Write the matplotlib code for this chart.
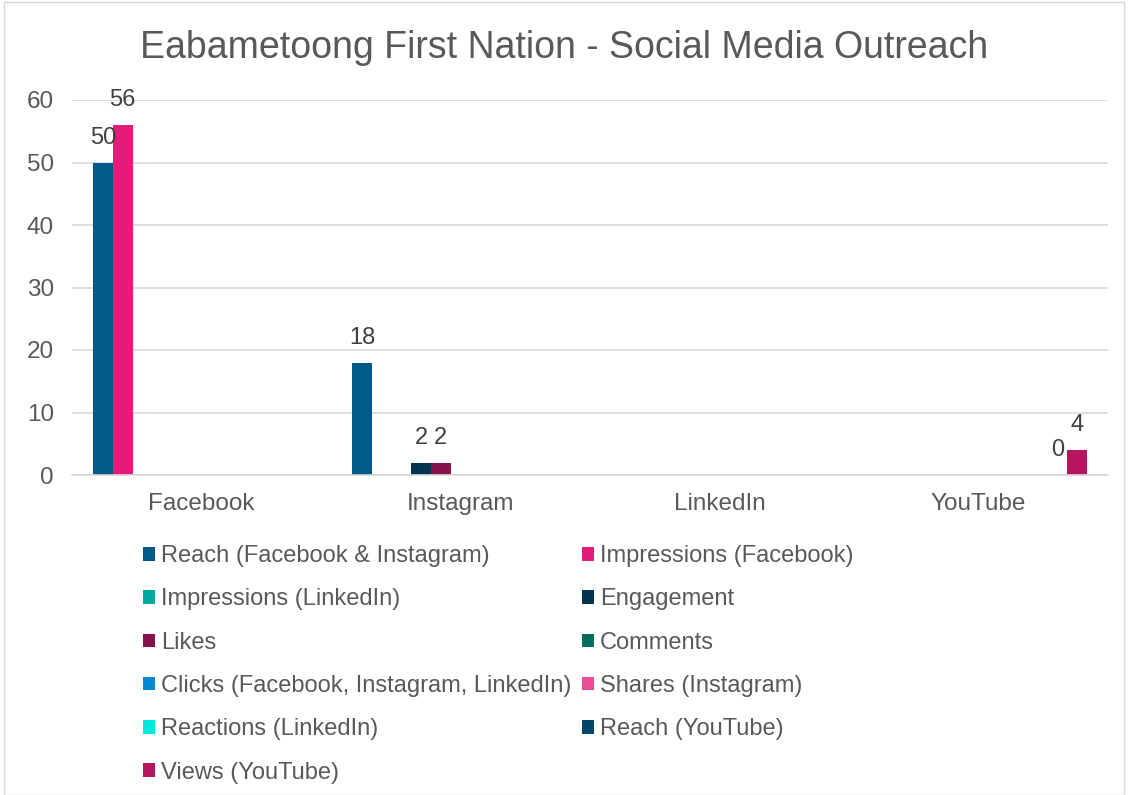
import matplotlib
matplotlib.use("Agg")
import matplotlib.pyplot as plt
import numpy as np
from matplotlib.patches import Rectangle

plt.rcParams['font.family'] = ['Liberation Sans', 'DejaVu Sans']

categories = ["Facebook", "Instagram", "LinkedIn", "YouTube"]
series_names = [
    "Reach (Facebook & Instagram)", "Impressions (Facebook)",
    "Impressions (LinkedIn)", "Engagement",
    "Likes", "Comments",
    "Clicks (Facebook, Instagram, LinkedIn)", "Shares (Instagram)",
    "Reactions (LinkedIn)", "Reach (YouTube)",
    "Views (YouTube)",
]
nan = np.nan
reach_fb_ig = [50, 18, nan, nan]
impressions_fb = [56, nan, nan, nan]
impressions_li = [nan, nan, nan, nan]
engagement = [nan, 2, nan, nan]
likes = [nan, 2, nan, nan]
comments = [nan, nan, nan, nan]
clicks = [nan, nan, nan, nan]
shares_ig = [nan, nan, nan, nan]
reactions_li = [nan, nan, nan, nan]
reach_yt = [nan, nan, nan, 0]
views_yt = [nan, nan, nan, 4]
values = [reach_fb_ig, impressions_fb, impressions_li, engagement, likes,
          comments, clicks, shares_ig, reactions_li, reach_yt, views_yt]
colors = ["#005A87", "#E31C79", "#00A99D", "#00344F", "#85124A",
          "#006B5F", "#0088D1", "#E94D97", "#00E8DA", "#00466B", "#B5165E"]
yticks = [0, 10, 20, 30, 40, 50, 60]

fig = plt.figure(figsize=(11.28, 7.95), dpi=100)
ax = fig.add_axes([72/1128, 1-475/795, (1108-72)/1128, (475-100)/795])

n = len(series_names)
group_w = 0.836
bw = group_w / n
x = np.arange(len(categories))
text_color = "#595959"
handles = []
for i, (name, vals, col) in enumerate(zip(series_names, values, colors)):
    pos = x - group_w/2 + bw*(i+0.5)
    v = np.array(vals, dtype=float)
    h = ax.bar(pos, np.nan_to_num(v), width=bw, color=col, label=name)
    handles.append(h)
    for p, val in zip(pos, v):
        if not np.isnan(val):
            ax.annotate(f"{int(val)}", (p, val), xytext=(0, 18),
                        textcoords="offset points", ha="center", va="center",
                        fontsize=17, color="#404040")

ax.set_xlim(-0.5, len(categories)-0.5)
ax.set_ylim(0, 60)
ax.set_yticks(yticks)
ax.set_xticks(x)
ax.set_xticklabels(categories)
ax.tick_params(axis='both', length=0, labelsize=17.5, colors=text_color)
ax.tick_params(axis='x', pad=13)
ax.tick_params(axis='y', pad=13)
ax.grid(axis='y', color="#D9D9D9", linewidth=1.2)
ax.set_axisbelow(True)
for s in ["top", "right", "left"]:
    ax.spines[s].set_visible(False)
ax.spines["bottom"].set_color("#D9D9D9")
ax.spines["bottom"].set_linewidth(1.2)

fig.text(0.5, 1-48/795, "Eabametoong First Nation - Social Media Outreach",
         ha="center", va="center", fontsize=27, color=text_color)

# row-wise ordering for a 2-column legend (matplotlib fills columns first)
order = list(range(0, n, 2)) + list(range(1, n, 2))
leg = fig.legend([handles[i] for i in order], [series_names[i] for i in order],
                 loc="upper left", bbox_to_anchor=(122/1128, 1-524/795), ncol=2,
                 frameon=False, fontsize=17, labelcolor=text_color,
                 handlelength=0.5, handleheight=0.5, handletextpad=0.25,
                 columnspacing=0.45, labelspacing=0.9)

fig.patches.append(Rectangle((4/1128, 0), 1-8/1128, 1-2/795, transform=fig.transFigure,
                             fill=False, edgecolor="#D9D9D9", linewidth=1))

fig.savefig("out.png", dpi=100)
